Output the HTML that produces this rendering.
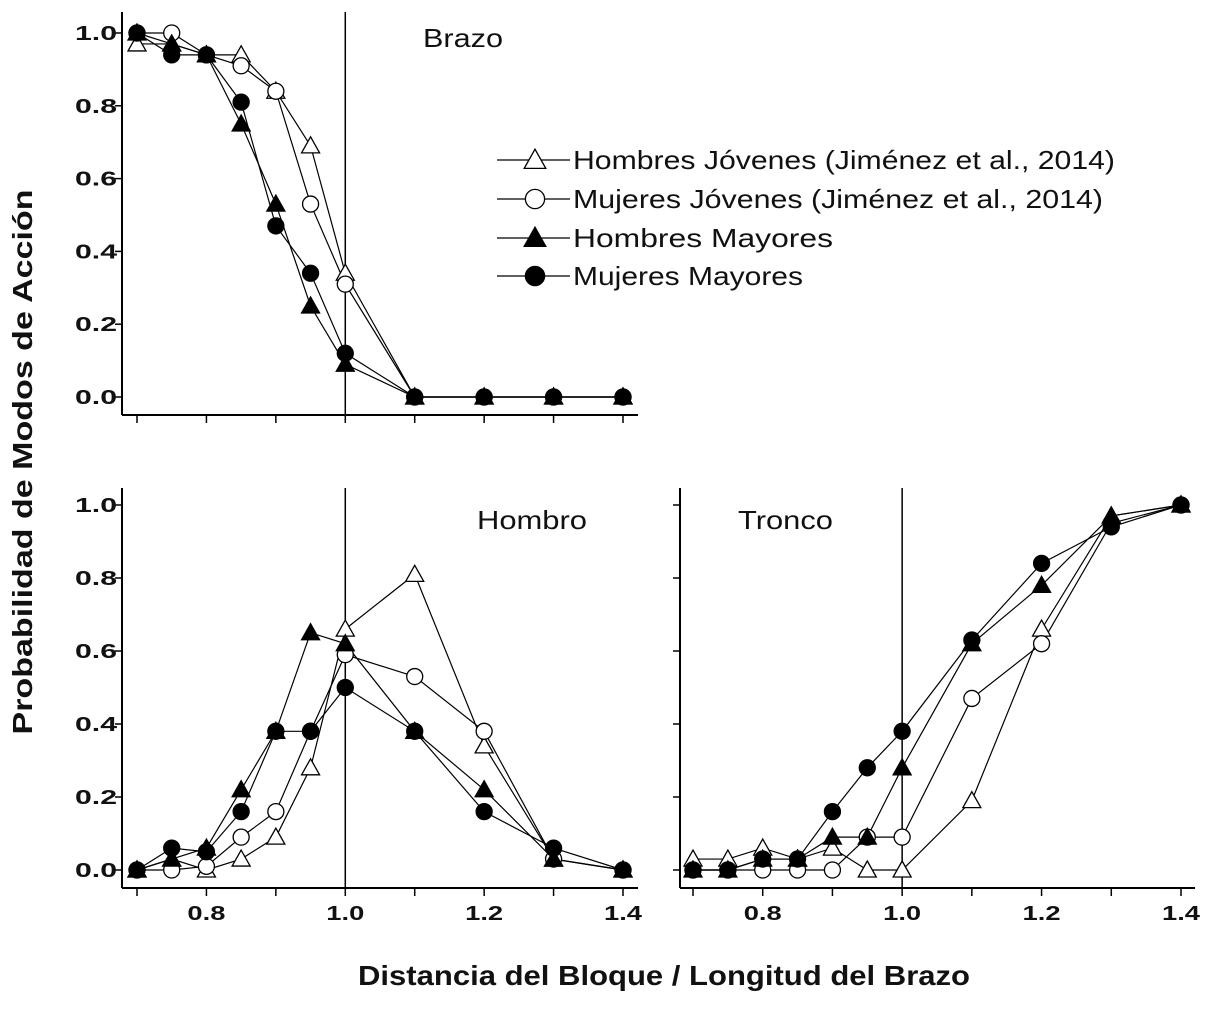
<!DOCTYPE html>
<html><head><meta charset="utf-8"><style>
body{margin:0;background:#fff}
svg text{font-family:"Liberation Sans",Arial,sans-serif;fill:#111}
</style></head><body>
<svg id="c" width="1217" height="1006" xmlns="http://www.w3.org/2000/svg"></svg>
<script>
const xs=[0.7,0.75,0.8,0.85,0.9,0.95,1.0,1.1,1.2,1.3,1.4];
const seriesNames=["Hombres Jóvenes (Jiménez et al., 2014)","Mujeres Jóvenes (Jiménez et al., 2014)","Hombres Mayores","Mujeres Mayores"];
const brazoHJ=[0.97,0.97,0.94,0.94,0.84,0.69,0.34,0,0,0,0];
const brazoMJ=[1.0,1.0,0.94,0.91,0.84,0.53,0.31,0,0,0,0];
const brazoHM=[1.0,0.97,0.94,0.75,0.53,0.25,0.09,0,0,0,0];
const brazoMM=[1.0,0.94,0.94,0.81,0.47,0.34,0.12,0,0,0,0];
const hombroHJ=[0,0.03,0,0.03,0.09,0.28,0.66,0.81,0.34,0.03,0];
const hombroMJ=[0,0,0.01,0.09,0.16,0.38,0.59,0.53,0.38,0.03,0];
const hombroHM=[0,0.03,0.06,0.22,0.38,0.65,0.62,0.38,0.22,0.03,0];
const hombroMM=[0,0.06,0.05,0.16,0.38,0.38,0.5,0.38,0.16,0.06,0];
const troncoHJ=[0.03,0.03,0.06,0.03,0.06,0,0,0.19,0.66,0.97,1.0];
const troncoMJ=[0,0,0,0,0,0.09,0.09,0.47,0.62,0.95,1.0];
const troncoHM=[0,0,0.03,0.03,0.09,0.09,0.28,0.62,0.78,0.97,1.0];
const troncoMM=[0,0,0.03,0.03,0.16,0.28,0.38,0.63,0.84,0.94,1.0];
const yTicks=[0,0.2,0.4,0.6,0.8,1.0];
const xTicks=[0.7,0.8,0.9,1.0,1.1,1.2,1.3,1.4];
const xTickLabels=["0.8","1.0","1.2","1.4"];
const svg=document.getElementById('c');
const NS="http://www.w3.org/2000/svg";
function mk(t,a,parent){const e=document.createElementNS(NS,t);for(const k in a)e.setAttribute(k,a[k]);(parent||svg).appendChild(e);return e;}
function marker(g,type,x,y,s){
  s=s||1;let e;
  if(type===0||type===2){e=mk('polygon',{points:`${x},${y-9*s} ${x-9*s},${y+7*s} ${x+9*s},${y+7*s}`,fill:type===2?'#000':'#fff',stroke:'#000','stroke-width':1.3},g);}
  else{e=mk('circle',{cx:x,cy:y,r:8*s,fill:type===3?'#000':'#fff',stroke:'#000','stroke-width':1.3},g);}
  return e;
}
function panel(name,x0,x1,y0,y1,top,bottom,left,right,data,label,lx,ly,lw,showY,showX){
  const g=mk('g',{});
  
  
  const X=v=>x0+(v-0.7)/(0.7)*(x1-x0);
  const Y=v=>y0+(v)*(y1-y0);
  mk('line',{x1:left,y1:top,x2:left,y2:bottom,stroke:'#000','stroke-width':2},g);
  mk('line',{x1:left,y1:bottom,x2:right,y2:bottom,stroke:'#000','stroke-width':2},g);
  mk('line',{x1:X(1.0),y1:top,x2:X(1.0),y2:bottom,stroke:'#000','stroke-width':1.5},g);
  yTicks.forEach(t=>{mk('line',{x1:left-7,y1:Y(t),x2:left,y2:Y(t),stroke:'#000','stroke-width':1.5},g);
    if(showY){const tx=mk('text',{x:left-5,y:Y(t)+7,'text-anchor':'end','font-size':20,'font-weight':'bold',textLength:42,lengthAdjust:'spacingAndGlyphs'},g);tx.textContent=t.toFixed(1);
      
      }});
  xTicks.forEach(t=>{mk('line',{x1:X(t),y1:bottom,x2:X(t),y2:bottom+8,stroke:'#000','stroke-width':1.5},g);});
  if(showX){xTickLabels.forEach(s=>{const tx=mk('text',{x:X(parseFloat(s)),y:bottom+32,'text-anchor':'middle','font-size':20,'font-weight':'bold',textLength:38,lengthAdjust:'spacingAndGlyphs'},g);tx.textContent=s;
      
      });}
  data.forEach((arr,si)=>{
    const s=mk('g',{},g);
    
    
    mk('polyline',{points:arr.map((v,i)=>X(xs[i])+','+Y(v)).join(' '),fill:'none',stroke:'#000','stroke-width':1.2},s);
  });
  data.forEach((arr,si)=>{arr.forEach((v,i)=>{const m=marker(g,si,X(xs[i]),Y(v));
    
    });});
  const t=mk('text',{x:lx,y:ly,'font-size':26,textLength:lw,lengthAdjust:'spacingAndGlyphs'},g);t.textContent=label;
  
  
}
panel('brazo',137,623,397,33,12,415,122,638,[brazoHJ,brazoMJ,brazoHM,brazoMM],'Brazo',423,47,80,true,false);
panel('hombro',137,623,870,505,488,888,122,638,[hombroHJ,hombroMJ,hombroHM,hombroMM],'Hombro',477,529,110,true,true);
panel('tronco',693,1181,870,505,488,888,680,1195,[troncoHJ,troncoMJ,troncoHM,troncoMM],'Tronco',738,529,95,false,true);
const legY=[160,199,238,276];
const legW=[542,530,260,230];
seriesNames.forEach((n,i)=>{
  const g=mk('g',{});
  
  
  mk('line',{x1:497,y1:legY[i],x2:570,y2:legY[i],stroke:'#000','stroke-width':1.3},g);
  marker(g,i,535,legY[i],1.2);
  const t=mk('text',{x:573,y:legY[i]+9,'font-size':26,textLength:legW[i],lengthAdjust:'spacingAndGlyphs'},g);t.textContent=n;
});
const yt=mk('text',{x:0,y:0,'font-size':28,'font-weight':'bold','text-anchor':'middle',textLength:545,lengthAdjust:'spacingAndGlyphs',transform:'translate(32,462) rotate(-90)'});
yt.textContent='Probabilidad de Modos de Acción';


const xt=mk('text',{x:664,y:985,'font-size':28,'font-weight':'bold','text-anchor':'middle',textLength:612,lengthAdjust:'spacingAndGlyphs'});
xt.textContent='Distancia del Bloque / Longitud del Brazo';


</script>
</body></html>
